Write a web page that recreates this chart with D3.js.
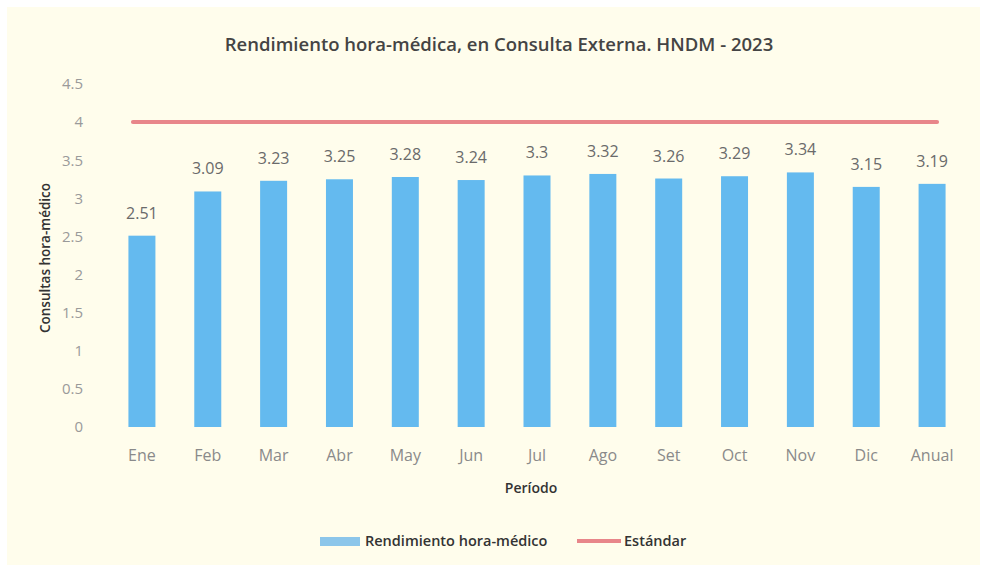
<!DOCTYPE html>
<html>
<head>
<meta charset="utf-8">
<script src="https://cdn.jsdelivr.net/npm/d3@7"></script>
<style>
  body { margin: 0; background: #fff; }
  svg text { font-family: "Open Sans", "Noto Sans", sans-serif; }
</style>
</head>
<body>
<div id="viz"></div>
<script>
const periods = ["Ene", "Feb", "Mar", "Abr", "May", "Jun", "Jul", "Ago", "Set", "Oct", "Nov", "Dic", "Anual"];
const rendimiento = [2.51, 3.09, 3.23, 3.25, 3.28, 3.24, 3.3, 3.32, 3.26, 3.29, 3.34, 3.15, 3.19];
const estandar = [4, 4, 4, 4, 4, 4, 4, 4, 4, 4, 4, 4, 4];
const yTicks = [0, 0.5, 1, 1.5, 2, 2.5, 3, 3.5, 4, 4.5];

const W = 987, H = 572;
const margin = {top: 84, right: 22, bottom: 145, left: 109};
const width = W - margin.left - margin.right,
      height = H - margin.top - margin.bottom;

const root = d3.select("#viz").append("svg")
  .attr("width", W).attr("height", H);

root.append("rect")
  .attr("x", 7).attr("y", 7).attr("width", W - 14).attr("height", H - 14)
  .attr("fill", "#fffdec");

const svg = root.append("g")
  .attr("transform", `translate(${margin.left},${margin.top})`);

const x = d3.scaleBand().domain(periods).range([0, width]).paddingInner(0.59).paddingOuter(0.295);
const y = d3.scaleLinear().domain([0, 4.5]).range([height, 0]);

// y axis
const yAxis = svg.append("g")
  .call(d3.axisLeft(y).tickValues(yTicks).tickSize(0).tickPadding(26).tickFormat(d => String(d)));
yAxis.select(".domain").remove();
yAxis.selectAll("text").attr("fill", "#9a9a9a").style("font-size", "15px");

// x axis
const xAxis = svg.append("g")
  .attr("transform", `translate(0,${height})`)
  .call(d3.axisBottom(x).tickSize(0).tickPadding(23));
xAxis.select(".domain").remove();
xAxis.selectAll("text").attr("fill", "#8a8a8a").style("font-size", "16px");

// bars
svg.append("g").selectAll("rect")
  .data(periods)
  .join("rect")
    .attr("x", d => x(d))
    .attr("y", (d, i) => y(rendimiento[i]))
    .attr("width", x.bandwidth())
    .attr("height", (d, i) => y(0) - y(rendimiento[i]))
    .attr("fill", "#64baef");

// value labels
svg.append("g").selectAll("text")
  .data(periods)
  .join("text")
    .attr("x", d => x(d) + x.bandwidth() / 2)
    .attr("y", (d, i) => y(rendimiento[i]) - 17)
    .attr("text-anchor", "middle")
    .attr("fill", "#6a6a6a")
    .style("font-size", "16px")
    .text((d, i) => rendimiento[i]);

// standard line
const lineX = (d, i) => {
  const c = x(periods[i]) + x.bandwidth() / 2;
  if (i === 0) return c - 9;
  if (i === periods.length - 1) return c + 5;
  return c;
};
svg.append("path")
  .datum(estandar)
  .attr("d", d3.line().x(lineX).y(d => y(d)))
  .attr("fill", "none")
  .attr("stroke", "#e8868a")
  .attr("stroke-width", 4)
  .attr("stroke-linecap", "round");

// title
root.append("text")
  .attr("x", 499).attr("y", 51)
  .attr("text-anchor", "middle")
  .attr("fill", "#444")
  .style("font-size", "18.5px").style("font-weight", 600)
  .text("Rendimiento hora-médica, en Consulta Externa. HNDM - 2023");

// axis titles
root.append("text")
  .attr("transform", `translate(50,258) rotate(-90)`)
  .attr("text-anchor", "middle")
  .attr("fill", "#333")
  .style("font-size", "13.5px").style("font-weight", 600)
  .text("Consultas hora-médico");

root.append("text")
  .attr("x", margin.left + width / 2 - 6).attr("y", 493)
  .attr("text-anchor", "middle")
  .attr("fill", "#333")
  .style("font-size", "14px").style("font-weight", 600)
  .text("Período");

// legend
const leg = root.append("g").attr("transform", "translate(320,541)");
leg.append("rect").attr("x", 0).attr("y", -4).attr("width", 40).attr("height", 9).attr("fill", "#8cc6ea");
leg.append("text").attr("x", 45).attr("y", 5).attr("fill", "#333")
  .style("font-size", "14.5px").style("font-weight", 600).text("Rendimiento hora-médico");
leg.append("line").attr("x1", 257).attr("x2", 301).attr("y1", 0).attr("y2", 0)
  .attr("stroke", "#e8868a").attr("stroke-width", 4);
leg.append("text").attr("x", 304).attr("y", 5).attr("fill", "#333")
  .style("font-size", "14.5px").style("font-weight", 600).text("Estándar");
</script>
</body>
</html>
